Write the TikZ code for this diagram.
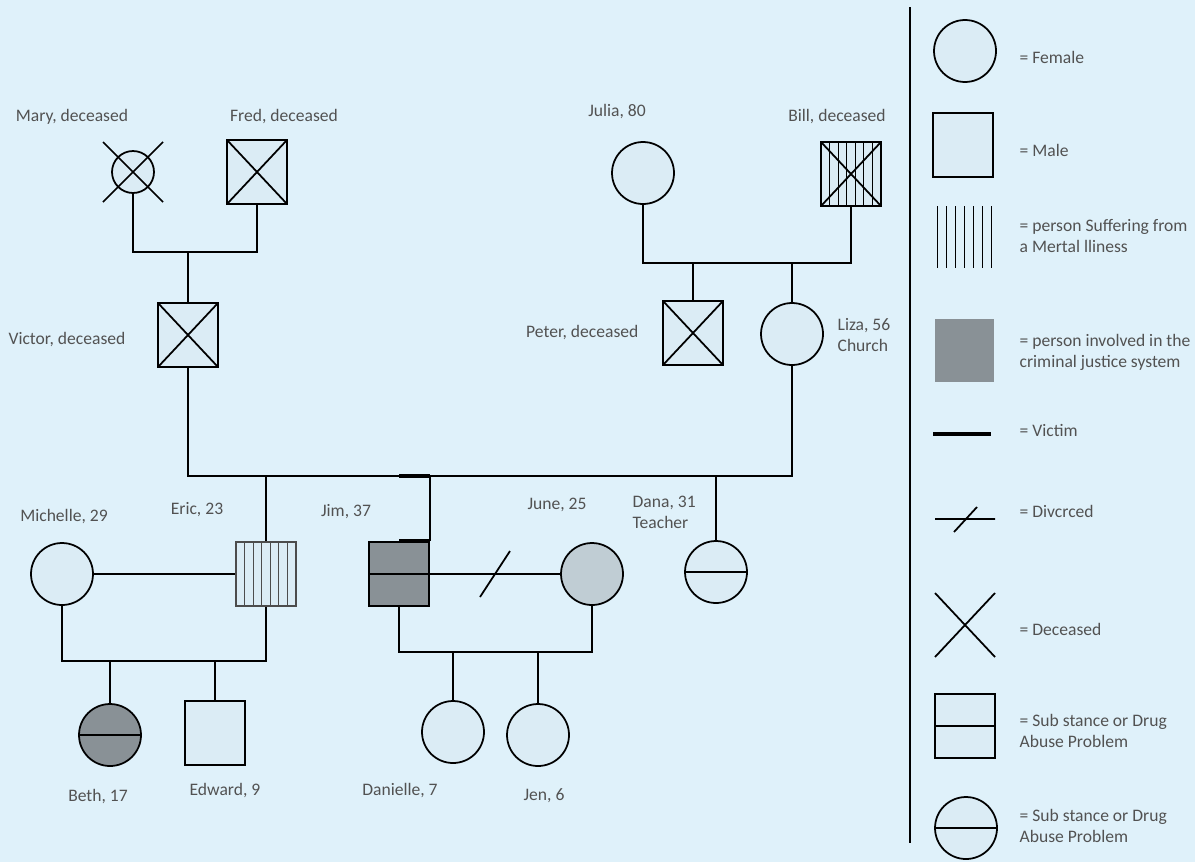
\documentclass[tikz,border=0pt]{standalone}
\usepackage{fontspec}
\setmainfont{Carlito}
\usetikzlibrary{calc}
\definecolor{bgblue}{RGB}{223,241,250}
\definecolor{shapefill}{RGB}{219,236,245}
\definecolor{crimegray}{RGB}{137,145,150}
\definecolor{junegray}{RGB}{192,205,212}
\definecolor{labelgray}{RGB}{82,82,82}
\newcommand{\crossbox}{\draw[line width=1pt] (path picture bounding box.north west) -- (path picture bounding box.south east)
      (path picture bounding box.south west) -- (path picture bounding box.north east);}
\newcommand{\hatchbox}{\foreach \k in {1,...,6}{\draw[line width=0.5pt] ($(path picture bounding box.south west)!\k/7!(path picture bounding box.south east)$) -- ++(0,3cm);}}
\tikzset{
  female/.style={circle, draw, line width=1pt, fill=shapefill, minimum size=1.24cm, inner sep=0pt},
  male/.style={rectangle, draw, line width=1pt, fill=shapefill, minimum width=1.2cm, minimum height=1.28cm, inner sep=0pt},
  dead/.style={path picture={\crossbox}},
  ill/.style={path picture={\hatchbox}},
  illdead/.style={path picture={\hatchbox\crossbox}},
  drug/.style={path picture={\draw[line width=1pt] (path picture bounding box.west) -- (path picture bounding box.east);}},
  crime/.style={fill=crimegray},
  victim/.style={line width=2.6pt},
  lbl/.style={text=labelgray, font=\fontsize{10}{12}\selectfont, inner sep=1pt},
  lgtext/.style={lbl, anchor=west, align=left},
}
\begin{document}
\begin{tikzpicture}[x=0.02cm, y=-0.02cm, line width=1pt]
        \fill[bgblue] (0,0) rectangle (1195,862);
        \useasboundingbox (0,0) rectangle (1195,862);
        % grandparents, father's side
        \node[female, minimum size=0.84cm] (mary) at (133,172) {};
        \draw ([shift={(-30,-30)}]mary.center) -- ([shift={(30,30)}]mary.center)
              ([shift={(-30,30)}]mary.center) -- ([shift={(30,-30)}]mary.center);
        \node[male, dead] (fred) at (257,172) {};
        \node[male, dead] (victor) at (188,335) {};
        \node[lbl] (maryL) at (72,117) {Mary, deceased};
        \node[lbl] (fredL) at (284,117) {Fred, deceased};
        \node[lbl, anchor=east] (victorL) at (128,340) {Victor, deceased};
        \coordinate (mf) at (188,252);
        \draw (mary.south) |- (mf) -| (fred.south);
        \draw (mf) -- (victor.north);
        % grandparents, mother's side
        \node[female] (julia) at (643,173) {};
        \node[male, illdead] (bill) at (851,174) {};
        \node[male, dead] (peter) at (693,333) {};
        \node[female] (liza) at (792,334) {};
        \node[lbl] (juliaL) at (617,112) {Julia, 80};
        \node[lbl] (billL) at (837,117) {Bill, deceased};
        \node[lbl, anchor=east] (peterL) at (641,333) {Peter, deceased};
        \node[lbl, anchor=west, align=left] (lizaL) at (835,335) {Liza, 56\\Church};
        \coordinate (jb) at (747,263);
        \draw (julia.south) |- (jb) -| (bill.south);
        \draw (peter.north) -- (peter.north |- jb);
        \draw (liza.north) -- (liza.north |- jb);
        % parents and their children
        \coordinate (vl) at (490,476);
        \draw (victor.south) |- (vl) -| (liza.south);
        \node[male, ill, draw=black!70, line width=0.6pt] (eric) at (266,574) {};
        \node[male, crime, drug] (jim) at (399,574) {};
        \node[female, drug] (dana) at (716,572) {};
        \draw (eric.north) -- (eric.north |- vl);
        \draw (jim.north east) -- (jim.north east |- vl);
        \draw (dana.north) -- (dana.north |- vl);
        \draw[victim] (jim.north) -- (jim.north east);
        \draw[victim] (jim.north |- vl) -- (jim.north east |- vl);
        \node[lbl] (ericL) at (197,510) {Eric, 23};
        \node[lbl] (jimL) at (346,512) {Jim, 37};
        \node[lbl, anchor=west, align=left] (danaL) at (630,512) {Dana, 31\\Teacher};
        % Eric and Michelle
        \node[female] (michelle) at (62,574) {};
        \node[lbl] (michelleL) at (64,517) {Michelle, 29};
        \draw (michelle.east) -- (eric.west);
        \node[female, crime, drug] (beth) at (110,735) {};
        \node[male] (edward) at (215,733) {};
        \node[lbl] (bethL) at (98,797) {Beth, 17};
        \node[lbl] (edwardL) at (225,791) {Edward, 9};
        \coordinate (me) at (163,661);
        \draw (michelle.south) |- (me) -| (eric.south);
        \draw (beth.north) -- (beth.north |- me);
        \draw (edward.north) -- (edward.north |- me);
        % Jim and June
        \node[female, fill=junegray] (june) at (592,574) {};
        \node[lbl] (juneL) at (557,505) {June, 25};
        \draw (jim.east) -- (june.west);
        \path (jim.east) -- (june.west) coordinate[pos=0.5] (div);
        \draw ([shift={(-15,23)}]div) -- ([shift={(15,-23)}]div);
        \node[female] (danielle) at (453,732) {};
        \node[female] (jen) at (538,735) {};
        \node[lbl] (danielleL) at (400,791) {Danielle, 7};
        \node[lbl] (jenL) at (544,796) {Jen, 6};
        \coordinate (jj) at (495,652);
        \draw (jim.south) |- (jj) -| (june.south);
        \draw (danielle.north) -- (danielle.north |- jj);
        \draw (jen.north) -- (jen.north |- jj);
        % legend
        \draw (910,7) -- (910,843);
        \node[female] (lgFemale) at (965,51) {};
        \node[lgtext] (lgFemaleT) at (1017,57) {= Female};
        \node[male] (lgMale) at (963,145) {};
        \node[lgtext] (lgMaleT) at (1017,150) {= Male};
        \foreach \k in {0,...,6}
          \draw[line width=0.5pt] (937+9*\k,206) -- (937+9*\k,268);
        \node[lgtext] (lgIllT) at (1017,236) {= person Suffering from\\a Mertal lliness};
        \node[rectangle, crime, minimum width=1.18cm, minimum height=1.26cm] (lgCrime) at (964,350) {};
        \node[lgtext] (lgCrimeT) at (1017,352) {= person involved in the\\criminal justice system};
        \draw[victim] (933,434) -- (991,434);
        \node[lgtext] (lgVictimT) at (1017,430) {= Victim};
        \draw (935,519) -- (995,519) (954,532) -- (977,507);
        \node[lgtext] (lgDivT) at (1017,511) {= Divcrced};
        \draw (935,593) -- (995,657) (935,657) -- (995,593);
        \node[lgtext] (lgDeadT) at (1017,629) {= Deceased};
        \node[male, drug] (lgDrugM) at (965,726) {};
        \node[lgtext] (lgDrugMT) at (1017,731) {= Sub stance or Drug\\Abuse Problem};
        \node[female, drug] (lgDrugF) at (966,828) {};
        \node[lgtext] (lgDrugFT) at (1017,826) {= Sub stance or Drug\\Abuse Problem};
    \end{tikzpicture}
\end{document}
